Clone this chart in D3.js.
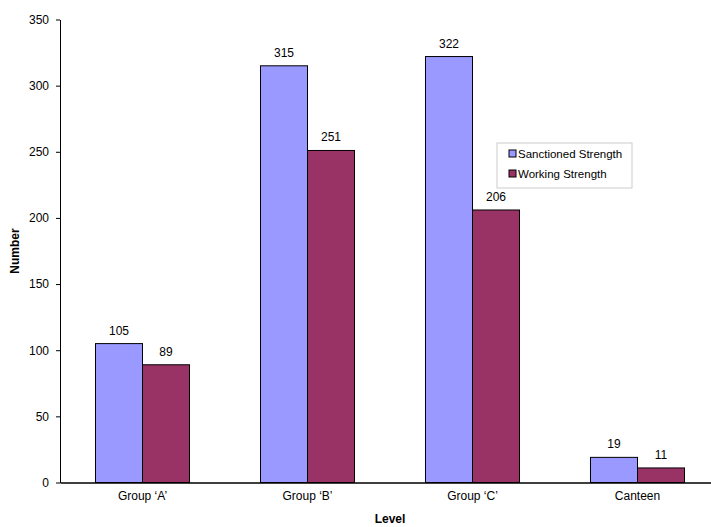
<!DOCTYPE html>
<html><head><meta charset="utf-8">
<script src="https://cdn.jsdelivr.net/npm/d3@7"></script>
<style>body{margin:0;background:#fff}text{font-family:"Liberation Sans",Arial,sans-serif}</style>
</head><body><svg id="c" width="711" height="527"></svg>
<script>
const categories = ["Group \u2018A\u2019", "Group \u2018B\u2019", "Group \u2018C\u2019", "Canteen"];
const seriesNames = ["Sanctioned Strength", "Working Strength"];
const sanctioned = [105, 315, 322, 19];
const working = [89, 251, 206, 11];
const yTicks = [0, 50, 100, 150, 200, 250, 300, 350];
const colors = ["#9999FF", "#993366"];

const svg = d3.select("#c");
const x = d3.scaleBand().domain(categories).range([60, 720]);
const y = d3.scaleLinear().domain([0, 350]).range([482.5, 19.5]);
const xs = d3.scaleBand().domain([0, 1]).range([0, x.bandwidth()]).paddingOuter(0.755);

const series = [sanctioned, working];
series.forEach((vals, si) => {
  const g = svg.append("g");
  g.selectAll("rect").data(vals).join("rect")
    .attr("x", (d, i) => x(categories[i]) + xs(si))
    .attr("y", d => y(d))
    .attr("width", xs.bandwidth())
    .attr("height", d => y(0) - y(d))
    .attr("fill", colors[si]).attr("stroke", "#000").attr("stroke-width", 1);
  g.selectAll("text").data(vals).join("text")
    .attr("x", (d, i) => x(categories[i]) + xs(si) + xs.bandwidth() / 2)
    .attr("y", d => y(d) - 9)
    .attr("text-anchor", "middle").attr("font-size", 12).attr("fill", "#000")
    .text(d => d);
});

const ya = svg.append("g").attr("transform", "translate(60,0)")
  .call(d3.axisLeft(y).tickValues(yTicks).tickSize(4).tickSizeOuter(0));
ya.select(".domain").attr("stroke", "#000");
ya.selectAll("text").attr("font-size", 12).attr("fill", "#000").attr("dx", -4);
ya.selectAll("line").attr("stroke", "#000");

const xa = svg.append("g").attr("transform", "translate(0,482.5)")
  .call(d3.axisBottom(x).tickSize(0).tickSizeOuter(0));
xa.select(".domain").attr("stroke", "#000").attr("stroke-width", 1.3);
xa.selectAll("text").attr("font-size", 12).attr("fill", "#000").attr("dy", 14);

svg.append("text").attr("x", 390).attr("y", 523).attr("text-anchor", "middle")
  .attr("font-size", 12).attr("font-weight", "bold").text("Level");
svg.append("text").attr("transform", "translate(19,251) rotate(-90)").attr("text-anchor", "middle")
  .attr("font-size", 12).attr("font-weight", "bold").text("Number");

const lg = svg.append("g").attr("transform", "translate(497,143)");
lg.append("rect").attr("width", 135).attr("height", 45).attr("fill", "#fff").attr("stroke", "#ccc");
seriesNames.forEach((n, i) => {
  lg.append("rect").attr("x", 12).attr("y", 7 + i * 20).attr("width", 7).attr("height", 7)
    .attr("fill", colors[i]).attr("stroke", "#000");
  lg.append("text").attr("x", 21).attr("y", 15 + i * 20).attr("font-size", 11.5).text(n);
});
</script></body></html>
